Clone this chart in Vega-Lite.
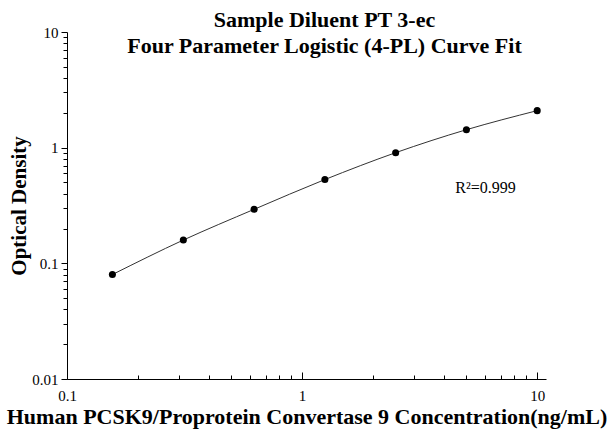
{
  "$schema": "https://vega.github.io/schema/vega-lite/v6.json",
  "autosize": {"type": "none"},
  "padding": {"left": 67, "top": 32, "right": 62, "bottom": 54},
  "width": 479,
  "height": 347,
  "background": "white",
  "title": {
    "text": ["Sample Diluent PT 3-ec", "Four Parameter Logistic (4-PL) Curve Fit"],
    "font": "Liberation Serif",
    "fontSize": 22,
    "fontWeight": "bold",
    "lineHeight": 26,
    "anchor": "middle",
    "frame": "group",
    "baseline": "top",
    "dx": 18,
    "offset": -33,
    "color": "black"
  },
  "config": {
    "view": {"stroke": null},
    "axis": {
      "grid": false,
      "domainColor": "black",
      "tickColor": "black",
      "labelColor": "black",
      "titleColor": "black",
      "labelFont": "Liberation Serif",
      "titleFont": "Liberation Serif",
      "labelFontSize": 15,
      "titleFontSize": 21,
      "titleFontWeight": "bold",
      "domainWidth": 1,
      "tickWidth": 1
    }
  },
  "data": {
    "values": [
      {"conc": 0.156, "od": 0.080},
      {"conc": 0.3125, "od": 0.159},
      {"conc": 0.625, "od": 0.293},
      {"conc": 1.25, "od": 0.530},
      {"conc": 2.5, "od": 0.905},
      {"conc": 5, "od": 1.43},
      {"conc": 10, "od": 2.09}
    ]
  },
  "encoding": {
    "x": {
      "field": "conc",
      "type": "quantitative",
      "scale": {"type": "log", "domain": [0.1, 10.9], "nice": false},
      "axis": {
        "title": "Human PCSK9/Proprotein Convertase 9 Concentration(ng/mL)",
        "titleFontSize": 22,
        "values": [0.1, 0.2, 0.3, 0.4, 0.5, 0.6, 0.7, 0.8, 0.9, 1, 2, 3, 4, 5, 6, 7, 8, 9, 10],
        "format": "~g",
        "labelExpr": "indexof([0.1, 1, 10], datum.value) >= 0 ? datum.label : ''",
        "tickSize": {"condition": {"test": "indexof([0.1, 1, 10], datum.value) >= 0", "value": -7}, "value": -4},
        "labelPadding": 16,
        "titlePadding": 0,
        "labelFlush": false,
        "labelOverlap": false
      }
    },
    "y": {
      "field": "od",
      "type": "quantitative",
      "scale": {"type": "log", "domain": [0.01, 10], "nice": false},
      "axis": {
        "title": "Optical Density",
        "values": [0.01, 0.02, 0.03, 0.04, 0.05, 0.06, 0.07, 0.08, 0.09, 0.1, 0.2, 0.3, 0.4, 0.5, 0.6, 0.7, 0.8, 0.9, 1, 2, 3, 4, 5, 6, 7, 8, 9, 10],
        "format": "~g",
        "labelExpr": "indexof([0.01, 0.1, 1, 10], datum.value) >= 0 ? datum.label : ''",
        "tickSize": {"condition": {"test": "indexof([0.01, 0.1, 1, 10], datum.value) >= 0", "value": 6}, "value": 4},
        "labelPadding": 3,
        "titlePadding": 2,
        "labelFlush": false,
        "labelOverlap": false
      }
    }
  },
  "layer": [
    {"mark": {"type": "line", "interpolate": "monotone", "color": "#333333", "strokeWidth": 1}},
    {"mark": {"type": "point", "filled": true, "color": "black", "size": 50, "opacity": 1}},
    {
      "data": {"values": [{"conc": 4.48, "od": 0.45, "label": "R²=0.999"}]},
      "mark": {"type": "text", "align": "left", "baseline": "middle", "font": "Liberation Serif", "fontSize": 16, "color": "black"},
      "encoding": {"text": {"field": "label"}}
    }
  ]
}
